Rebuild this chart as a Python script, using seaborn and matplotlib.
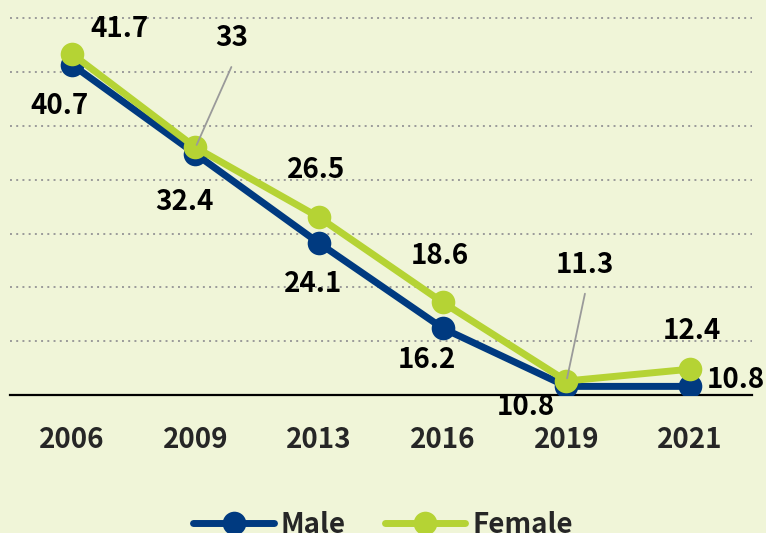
import pandas as pd
import numpy as np
import matplotlib.pyplot as plt
import seaborn as sns

years = ['2006', '2009', '2013', '2016', '2019', '2021']
male = [40.7, 32.4, 24.1, 16.2, 10.8, 10.8]
female = [41.7, 33, 26.5, 18.6, 11.3, 12.4]

bg = '#f0f5d8'
c_male = '#003a80'
c_female = '#b5d334'

df = pd.DataFrame({
    'year': years * 2,
    'value': male + female,
    'sex': ['Male'] * len(years) + ['Female'] * len(years),
})

sns.set_style('white')
plt.rcParams['font.family'] = ['Noto Sans CJK JP', 'DejaVu Sans']

fig = plt.figure(figsize=(7.66, 5.33), dpi=100, facecolor=bg)
ax = fig.add_axes([10 / 766, 138 / 533, 742 / 766, 395 / 533])
ax.set_facecolor(bg)

for y in range(15, 50, 5):
    ax.axhline(y, color='#9a9a9a', lw=1.4, ls=(0, (1, 2.2)), zorder=0)

sns.lineplot(data=df, x='year', y='value', hue='sex', palette={'Male': c_male, 'Female': c_female},
             marker='o', markersize=17, markeredgewidth=0, linewidth=5, ax=ax, legend=False, sort=False)

# label offsets in pixels (dx, dy)
off_m = [(-12, -41), (-11, -48), (-6, -41), (-16, -32), (-41, -21), (46, 6)]
off_f = [(48, 25), (36, 109), (-3, 47), (-3, 46), (18, 116), (2, 38)]
leader = {1: True, 4: True}

for i, v in enumerate(male):
    ax.annotate(f'{v:g}', (i, v), xytext=off_m[i], textcoords='offset pixels',
                ha='center', va='center', fontsize=20, fontweight='bold', color='black')
for i, v in enumerate(female):
    dx, dy = off_f[i]
    ax.annotate(f'{v:g}', (i, v), xytext=(dx, dy), textcoords='offset pixels',
                ha='center', va='center', fontsize=20, fontweight='bold', color='black')
    if i in leader:
        ax.annotate('', (i, v), xytext=(dx + 1, dy - 26), textcoords='offset pixels',
                    arrowprops=dict(arrowstyle='-', color='#9a9a9a', lw=1.3), zorder=5)

ax.set_xlim(-0.5, 5.5)
ax.set_ylim(10, 46.7)
ax.set_xlabel('')
ax.set_ylabel('')
ax.set_yticks([])
ax.tick_params(axis='x', length=0, pad=22, labelsize=20)
for lab in ax.get_xticklabels():
    lab.set_fontweight('bold')
for s in ['top', 'left', 'right']:
    ax.spines[s].set_visible(False)
ax.spines['bottom'].set_color('black')
ax.spines['bottom'].set_linewidth(1.6)
ax.spines['bottom'].set_zorder(1)

handles = [plt.Line2D([], [], color=c_male, lw=5, marker='o', markersize=17, markeredgewidth=0),
           plt.Line2D([], [], color=c_female, lw=5, marker='o', markersize=17, markeredgewidth=0)]
fig.legend(handles, ['Male', 'Female'], loc='center', bbox_to_anchor=(0.5, 0.015), ncol=2,
           frameon=False, handlelength=2.9, handletextpad=0.25, columnspacing=1.4,
           prop={'weight': 'bold', 'size': 20})

fig.savefig('out.png', dpi=100, facecolor=bg)
